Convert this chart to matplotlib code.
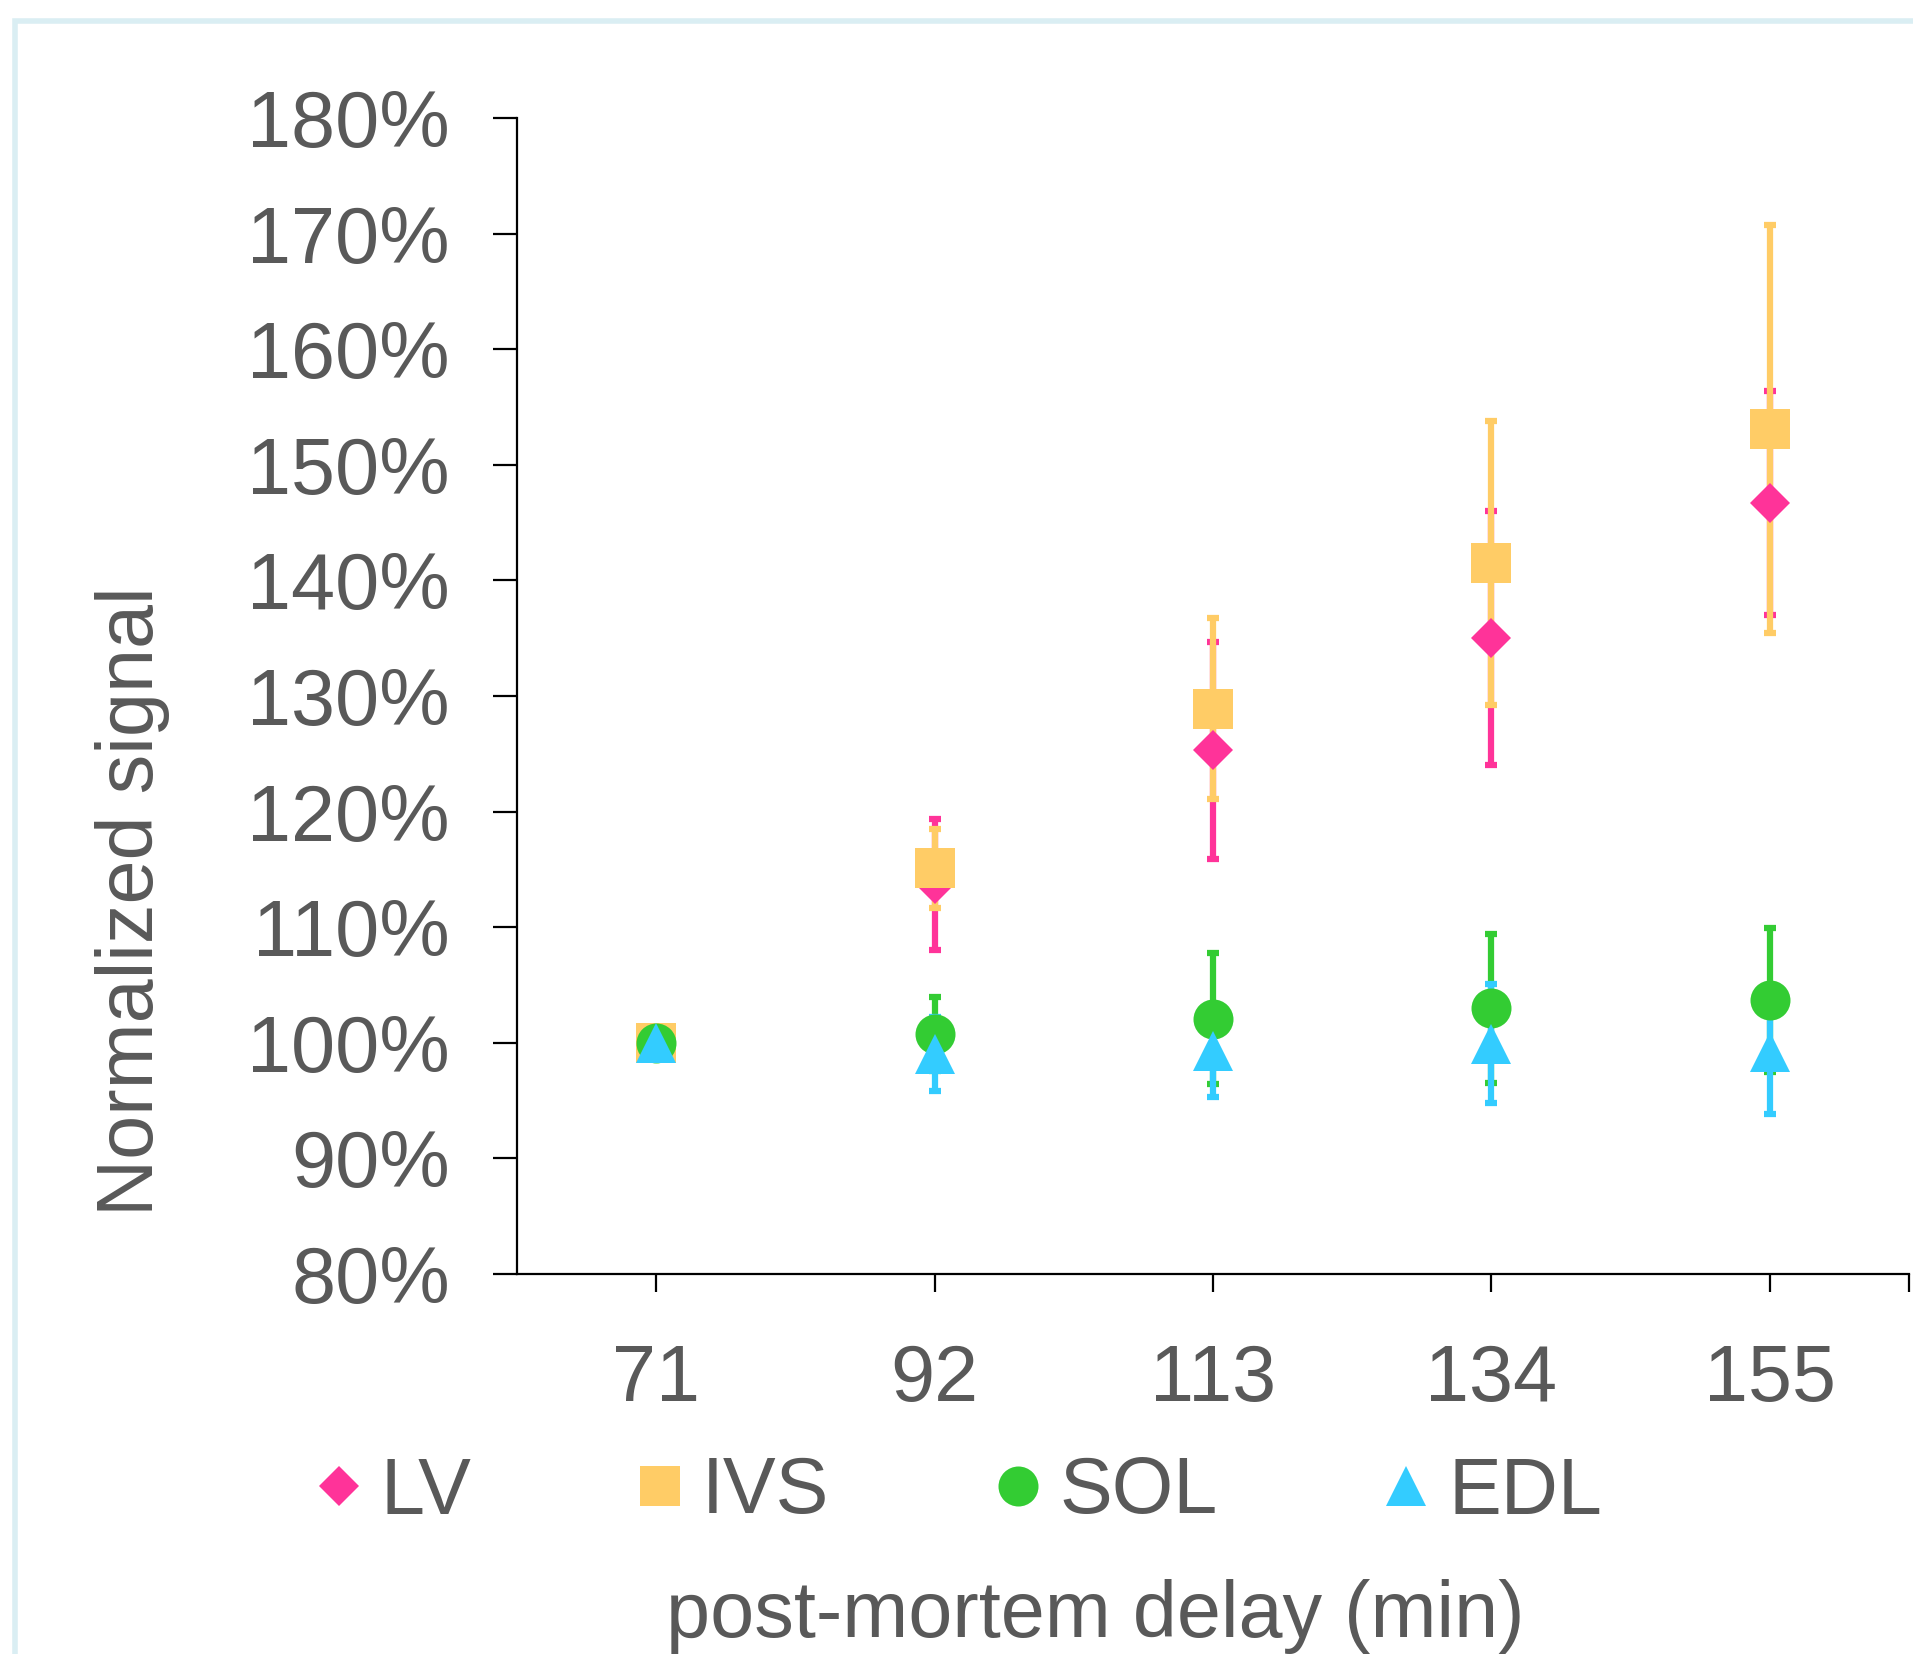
import numpy as np
import matplotlib
matplotlib.use('Agg')
import matplotlib.pyplot as plt
from matplotlib.patches import Rectangle

# Dữ liệu
delays = ['71', '92', '113', '134', '155']
series = ['LV', 'IVS', 'SOL', 'EDL']

lv_mean = [100.0, 113.7, 125.3, 135.0, 146.7]
lv_err = [0.0, 5.7, 9.4, 11.0, 9.7]
ivs_mean = [100.0, 115.1, 128.9, 141.5, 153.1]
ivs_err = [0.0, 3.4, 7.85, 12.3, 17.65]
sol_mean = [100.0, 100.8, 102.1, 103.0, 103.7]
sol_err = [0.0, 3.2, 5.7, 6.45, 6.25]
edl_mean = [100.0, 99.0, 99.3, 99.9, 99.2]
edl_err = [0.0, 3.2, 4.0, 5.15, 5.4]

means = [lv_mean, ivs_mean, sol_mean, edl_mean]
errs = [lv_err, ivs_err, sol_err, edl_err]
colors = ['#FF3399', '#FFCC66', '#33CC33', '#33CCFF']
markers = ['D', 's', 'o', '^']
msizes = [20.4, 28.8, 28.8, 28.8]

text_color = '#595959'
plt.rcParams['font.family'] = ['Liberation Sans', 'DejaVu Sans']
fs = 57

W, H = 1913, 1654
fig = plt.figure(figsize=(W / 100, H / 100), dpi=100)
ax = fig.add_axes([517 / W, 1 - 1274 / H, (1909 - 517) / W, (1274 - 118) / H])

x = np.arange(len(delays))

# error bars first, then markers on top
for m, e, c in zip(means, errs, colors):
    ax.errorbar(x, m, yerr=e, fmt='none', ecolor=c, elinewidth=4.5,
                capsize=4.3, capthick=4.5, zorder=2)

for m, c, mk, ms, name in zip(means, colors, markers, msizes, series):
    ax.plot(x, m, linestyle='none', marker=mk, markersize=ms, color=c,
            markeredgewidth=0, zorder=3, label=name)

ax.set_xlim(-0.5, len(delays) - 0.5)
ax.set_ylim(80, 180)
ax.set_yticks(np.arange(80, 181, 10))
ax.set_yticklabels([f'{v}%' for v in range(80, 181, 10)])
ax.set_xticks(x)
ax.set_xticklabels(delays)
ax.set_xticks([len(delays) - 0.5], minor=True)

for s in ['top', 'right']:
    ax.spines[s].set_visible(False)
for s in ['left', 'bottom']:
    ax.spines[s].set_linewidth(1.6)
    ax.spines[s].set_color('black')

ax.tick_params(axis='y', length=17.3, width=1.6, color='black',
               labelsize=fs, labelcolor=text_color, pad=31)
ax.tick_params(axis='x', which='both', length=13, width=1.6, color='black',
               labelsize=fs, labelcolor=text_color, pad=37)

fig.text(133 / W, 1 - 901 / H, 'Normalized signal', rotation=90,
         ha='center', va='center', fontsize=fs, color=text_color)
fig.text(1095 / W, 1 - 1637 / H, 'post-mortem delay (min)',
         ha='center', va='baseline', fontsize=fs, color=text_color)

leg = fig.legend(loc='center left', bbox_to_anchor=(314 / W, 1 - 1493 / H),
                 ncol=4, frameon=False, fontsize=fs, labelcolor=text_color,
                 handlelength=0.62, handletextpad=0.22, columnspacing=2.07,
                 borderpad=0, borderaxespad=0, numpoints=1)

# light blue frame around the chart
fig.patches.append(Rectangle((14.5 / W, -0.05), 1.2, 1 - 20.5 / H + 0.05,
                             transform=fig.transFigure, fill=False,
                             edgecolor='#DAEEF3', linewidth=4, zorder=0))

fig.savefig('out.png', dpi=100)
